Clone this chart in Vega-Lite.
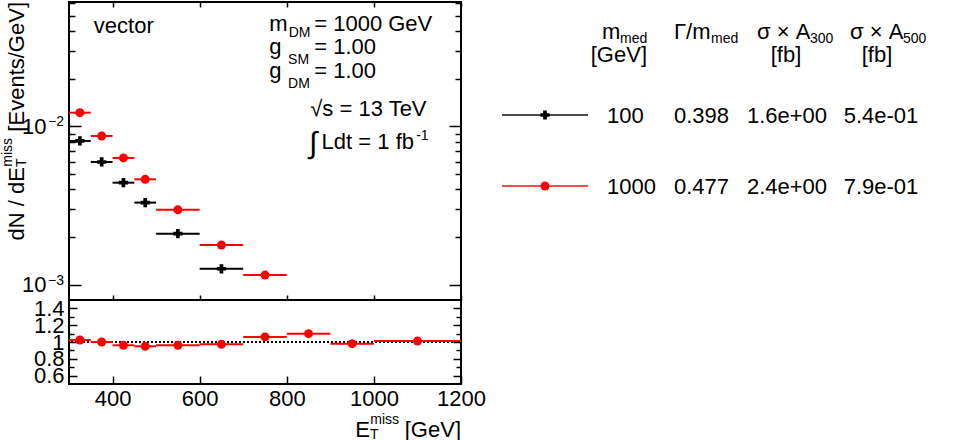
{
  "$schema": "https://vega.github.io/schema/vega-lite/v6.json",
  "padding": 0,
  "background": "white",
  "datasets": {
    "spectrum": [
      {"m_med": "100", "met_lo": 300, "met_hi": 350, "met": 325, "dNdMET": 0.00809},
      {"m_med": "100", "met_lo": 350, "met_hi": 400, "met": 375, "dNdMET": 0.00596},
      {"m_med": "100", "met_lo": 400, "met_hi": 450, "met": 425, "dNdMET": 0.00441},
      {"m_med": "100", "met_lo": 450, "met_hi": 500, "met": 475, "dNdMET": 0.00330},
      {"m_med": "100", "met_lo": 500, "met_hi": 600, "met": 550, "dNdMET": 0.00210},
      {"m_med": "100", "met_lo": 600, "met_hi": 700, "met": 650, "dNdMET": 0.00126},
      {"m_med": "1000", "met_lo": 300, "met_hi": 350, "met": 325, "dNdMET": 0.01221},
      {"m_med": "1000", "met_lo": 350, "met_hi": 400, "met": 375, "dNdMET": 0.00870},
      {"m_med": "1000", "met_lo": 400, "met_hi": 450, "met": 425, "dNdMET": 0.00632},
      {"m_med": "1000", "met_lo": 450, "met_hi": 500, "met": 475, "dNdMET": 0.00463},
      {"m_med": "1000", "met_lo": 500, "met_hi": 600, "met": 550, "dNdMET": 0.00297},
      {"m_med": "1000", "met_lo": 600, "met_hi": 700, "met": 650, "dNdMET": 0.00178},
      {"m_med": "1000", "met_lo": 700, "met_hi": 800, "met": 750, "dNdMET": 0.00115}
    ],
    "ratio": [
      {"met_lo": 300, "met_hi": 350, "met": 325, "ratio": 1.024},
      {"met_lo": 350, "met_hi": 400, "met": 375, "ratio": 1.000},
      {"met_lo": 400, "met_hi": 450, "met": 425, "ratio": 0.961},
      {"met_lo": 450, "met_hi": 500, "met": 475, "ratio": 0.949},
      {"met_lo": 500, "met_hi": 600, "met": 550, "ratio": 0.961},
      {"met_lo": 600, "met_hi": 700, "met": 650, "ratio": 0.973},
      {"met_lo": 700, "met_hi": 800, "met": 750, "ratio": 1.060},
      {"met_lo": 800, "met_hi": 900, "met": 850, "ratio": 1.099},
      {"met_lo": 900, "met_hi": 1000, "met": 950, "ratio": 0.980},
      {"met_lo": 1000, "met_hi": 1200, "met": 1100, "ratio": 1.012}
    ],
    "samples": [
      {"m_med": "100", "width": "0.398", "xsec300": "1.6e+00", "xsec500": "5.4e-01"},
      {"m_med": "1000", "width": "0.477", "xsec300": "2.4e+00", "xsec500": "7.9e-01"}
    ],
    "decades": [
      {"tick": 0.01, "exponent": "−2"},
      {"tick": 0.001, "exponent": "−3"}
    ]
  },
  "hconcat": [
    {
      "vconcat": [
        {
          "width": 392,
          "height": 298,
          "resolve": {"axis": {"x": "independent", "y": "independent"}},
          "layer": [
            {
              "data": {"name": "spectrum"},
              "mark": {"type": "rule", "strokeWidth": 2},
              "encoding": {
                "x": {"field": "met_lo", "type": "quantitative",
                  "scale": {"domain": [300, 1200], "nice": false, "zero": false},
                  "axis": {"orient": "bottom", "values": [400, 600, 800, 1000, 1200], "labels": false, "tickSize": -5, "title": null}},
                "x2": {"field": "met_hi"},
                "y": {"field": "dNdMET", "type": "quantitative",
                  "scale": {"type": "log", "domain": [0.0008, 0.0611], "nice": false},
                  "axis": {"orient": "left", "values": [0.01, 0.001], "labelExpr": "'10'", "tickSize": -12, "labelPadding": 35, "title": null}},
                "color": {"field": "m_med", "type": "nominal", "scale": {"domain": ["100", "1000"], "range": ["#000000", "#ff0000"]}, "legend": null}
              }
            },
            {
              "data": {"name": "spectrum"},
              "mark": {"type": "point", "filled": true, "opacity": 1},
              "encoding": {
                "x": {"field": "met", "type": "quantitative",
                  "axis": {"orient": "top", "values": [400, 600, 800, 1000, 1200], "labels": false, "tickSize": -5, "title": null}},
                "y": {"field": "dNdMET", "type": "quantitative",
                  "axis": {"orient": "left", "values": [0.002, 0.003, 0.004, 0.005, 0.006, 0.007, 0.008, 0.009, 0.02, 0.03, 0.04, 0.05, 0.06], "labels": false, "tickSize": -6, "title": null}},
                "color": {"field": "m_med", "type": "nominal", "scale": {"domain": ["100", "1000"], "range": ["#000000", "#ff0000"]}, "legend": null},
                "shape": {"field": "m_med", "type": "nominal", "scale": {"domain": ["100", "1000"], "range": ["cross", "circle"]}, "legend": null},
                "size": {"field": "m_med", "type": "ordinal", "scale": {"domain": ["100", "1000"], "range": [85, 80]}, "legend": null}
              }
            },
            {
              "data": {"name": "decades"},
              "mark": {"type": "text", "align": "left", "baseline": "alphabetic", "fontSize": 14, "dx": -21},
              "encoding": {
                "x": {"datum": 300, "type": "quantitative", "axis": null},
                "y": {"field": "tick", "type": "quantitative",
                  "axis": {"orient": "right", "values": [0.01, 0.001], "labels": false, "tickSize": -12, "title": null}},
                "text": {"field": "exponent"}
              }
            },
            {
              "data": {"values": [{}]},
              "mark": {"type": "text", "text": "vector", "align": "left", "baseline": "alphabetic", "fontSize": 22},
              "encoding": {
                "x": {"datum": 357, "type": "quantitative", "axis": null},
                "y": {"datum": 0.0388, "type": "quantitative",
                  "axis": {"orient": "right", "values": [0.002, 0.003, 0.004, 0.005, 0.006, 0.007, 0.008, 0.009, 0.02, 0.03, 0.04, 0.05, 0.06], "labels": false, "tickSize": -6, "title": null}}
              }
            },
            {
              "data": {"values": [{}]},
              "mark": {"type": "text", "text": "m", "align": "left", "baseline": "alphabetic", "fontSize": 22},
              "encoding": {"x": {"datum": 760, "type": "quantitative", "axis": null}, "y": {"datum": 0.04008, "type": "quantitative", "axis": null}}
            },
            {
              "data": {"values": [{}]},
              "mark": {"type": "text", "text": "DM", "align": "left", "baseline": "alphabetic", "fontSize": 14, "dy": 6},
              "encoding": {"x": {"datum": 804.5, "type": "quantitative", "axis": null}, "y": {"datum": 0.04008, "type": "quantitative", "axis": null}}
            },
            {
              "data": {"values": [{}]},
              "mark": {"type": "text", "text": "= 1000 GeV", "align": "left", "baseline": "alphabetic", "fontSize": 22},
              "encoding": {"x": {"datum": 863, "type": "quantitative", "axis": null}, "y": {"datum": 0.04008, "type": "quantitative", "axis": null}}
            },
            {
              "data": {"values": [{}]},
              "mark": {"type": "text", "text": "g", "align": "left", "baseline": "alphabetic", "fontSize": 22},
              "encoding": {"x": {"datum": 760, "type": "quantitative", "axis": null}, "y": {"datum": 0.02855, "type": "quantitative", "axis": null}}
            },
            {
              "data": {"values": [{}]},
              "mark": {"type": "text", "text": "SM", "align": "left", "baseline": "alphabetic", "fontSize": 14, "dy": 10},
              "encoding": {"x": {"datum": 803, "type": "quantitative", "axis": null}, "y": {"datum": 0.02855, "type": "quantitative", "axis": null}}
            },
            {
              "data": {"values": [{}]},
              "mark": {"type": "text", "text": "= 1.00", "align": "left", "baseline": "alphabetic", "fontSize": 22},
              "encoding": {"x": {"datum": 863, "type": "quantitative", "axis": null}, "y": {"datum": 0.02855, "type": "quantitative", "axis": null}}
            },
            {
              "data": {"values": [{}]},
              "mark": {"type": "text", "text": "g", "align": "left", "baseline": "alphabetic", "fontSize": 22},
              "encoding": {"x": {"datum": 760, "type": "quantitative", "axis": null}, "y": {"datum": 0.02014, "type": "quantitative", "axis": null}}
            },
            {
              "data": {"values": [{}]},
              "mark": {"type": "text", "text": "DM", "align": "left", "baseline": "alphabetic", "fontSize": 14, "dy": 10},
              "encoding": {"x": {"datum": 803, "type": "quantitative", "axis": null}, "y": {"datum": 0.02014, "type": "quantitative", "axis": null}}
            },
            {
              "data": {"values": [{}]},
              "mark": {"type": "text", "text": "= 1.00", "align": "left", "baseline": "alphabetic", "fontSize": 22},
              "encoding": {"x": {"datum": 863, "type": "quantitative", "axis": null}, "y": {"datum": 0.02014, "type": "quantitative", "axis": null}}
            },
            {
              "data": {"values": [{}]},
              "mark": {"type": "text", "text": "√s = 13 TeV", "align": "left", "baseline": "alphabetic", "fontSize": 22},
              "encoding": {"x": {"datum": 854, "type": "quantitative", "axis": null}, "y": {"datum": 0.01164, "type": "quantitative", "axis": null}}
            },
            {
              "data": {"values": [{}]},
              "mark": {"type": "text", "text": "∫", "align": "left", "baseline": "alphabetic", "fontSize": 30, "dy": 4},
              "encoding": {"x": {"datum": 851, "type": "quantitative", "axis": null}, "y": {"datum": 0.007171, "type": "quantitative", "axis": null}}
            },
            {
              "data": {"values": [{}]},
              "mark": {"type": "text", "text": "Ldt = 1 fb", "align": "left", "baseline": "alphabetic", "fontSize": 22},
              "encoding": {"x": {"datum": 880, "type": "quantitative", "axis": null}, "y": {"datum": 0.007171, "type": "quantitative", "axis": null}}
            },
            {
              "data": {"values": [{}]},
              "mark": {"type": "text", "text": "-1", "align": "left", "baseline": "alphabetic", "fontSize": 14, "dy": -9},
              "encoding": {"x": {"datum": 1097, "type": "quantitative", "axis": null}, "y": {"datum": 0.007171, "type": "quantitative", "axis": null}}
            },
            {
              "data": {"values": [{}]},
              "mark": {"type": "text", "text": "[Events/GeV]", "angle": 270, "align": "right", "baseline": "alphabetic", "fontSize": 22, "dy": -45},
              "encoding": {"x": {"datum": 300, "type": "quantitative", "axis": null}, "y": {"datum": 0.0611, "type": "quantitative", "axis": null}}
            },
            {
              "data": {"values": [{}]},
              "mark": {"type": "text", "text": "miss", "angle": 270, "align": "right", "baseline": "alphabetic", "fontSize": 14, "dx": -136, "dy": -57},
              "encoding": {"x": {"datum": 300, "type": "quantitative", "axis": null}, "y": {"datum": 0.0611, "type": "quantitative", "axis": null}}
            },
            {
              "data": {"values": [{}]},
              "mark": {"type": "text", "text": "T", "angle": 270, "align": "left", "baseline": "alphabetic", "fontSize": 14, "dx": -165, "dy": -43},
              "encoding": {"x": {"datum": 300, "type": "quantitative", "axis": null}, "y": {"datum": 0.0611, "type": "quantitative", "axis": null}}
            },
            {
              "data": {"values": [{}]},
              "mark": {"type": "text", "text": "dN / dE", "angle": 270, "align": "right", "baseline": "alphabetic", "fontSize": 22, "dx": -165, "dy": -45},
              "encoding": {"x": {"datum": 300, "type": "quantitative", "axis": null}, "y": {"datum": 0.0611, "type": "quantitative", "axis": null}}
            }
          ]
        },
        {
          "width": 392,
          "height": 84,
          "resolve": {"axis": {"x": "independent", "y": "independent"}},
          "layer": [
            {
              "data": {"values": [{}]},
              "mark": {"type": "rule", "color": "black", "strokeWidth": 2, "strokeDash": [2, 2]},
              "encoding": {
                "y": {"datum": 1, "type": "quantitative",
                  "scale": {"domain": [0.5, 1.5], "nice": false, "zero": false},
                  "axis": {"orient": "right", "values": [0.6, 0.8, 1, 1.2, 1.4], "labels": false, "tickSize": -8, "title": null}}
              }
            },
            {
              "data": {"name": "ratio"},
              "mark": {"type": "rule", "color": "#ff0000", "strokeWidth": 2},
              "encoding": {
                "x": {"field": "met_lo", "type": "quantitative",
                  "scale": {"domain": [300, 1200], "nice": false, "zero": false},
                  "axis": {"orient": "bottom", "values": [400, 600, 800, 1000, 1200], "format": "d", "tickSize": -8, "labelPadding": 12, "title": null}},
                "x2": {"field": "met_hi"},
                "y": {"field": "ratio", "type": "quantitative",
                  "axis": {"orient": "left", "values": [0.6, 0.8, 1, 1.2, 1.4], "format": "~g", "tickSize": -8, "labelPadding": 13, "title": null}}
              }
            },
            {
              "data": {"name": "ratio"},
              "mark": {"type": "point", "shape": "circle", "filled": true, "opacity": 1, "color": "#ff0000", "size": 80},
              "encoding": {
                "x": {"field": "met", "type": "quantitative", "axis": null},
                "y": {"field": "ratio", "type": "quantitative",
                  "axis": {"orient": "left", "values": [0.7, 0.9, 1.1, 1.3], "labels": false, "tickSize": -5, "title": null}}
              }
            },
            {
              "data": {"values": [{}]},
              "mark": {"type": "text", "text": "[GeV]", "align": "right", "baseline": "alphabetic", "fontSize": 22, "dy": 53},
              "encoding": {
                "x": {"datum": 1200, "type": "quantitative", "axis": null},
                "y": {"datum": 0.5, "type": "quantitative",
                  "axis": {"orient": "right", "values": [0.7, 0.9, 1.1, 1.3], "labels": false, "tickSize": -5, "title": null}}
              }
            },
            {
              "data": {"values": [{}]},
              "mark": {"type": "text", "text": "miss", "align": "right", "baseline": "alphabetic", "fontSize": 14, "dx": -62, "dy": 40},
              "encoding": {"x": {"datum": 1200, "type": "quantitative", "axis": null}, "y": {"datum": 0.5, "type": "quantitative", "axis": null}}
            },
            {
              "data": {"values": [{}]},
              "mark": {"type": "text", "text": "T", "align": "left", "baseline": "alphabetic", "fontSize": 14, "dx": -91, "dy": 55},
              "encoding": {"x": {"datum": 1200, "type": "quantitative", "axis": null}, "y": {"datum": 0.5, "type": "quantitative", "axis": null}}
            },
            {
              "data": {"values": [{}]},
              "mark": {"type": "text", "text": "E", "align": "right", "baseline": "alphabetic", "fontSize": 22, "dx": -91, "dy": 53},
              "encoding": {"x": {"datum": 1200, "type": "quantitative", "axis": null}, "y": {"datum": 0.5, "type": "quantitative", "axis": null}}
            }
          ]
        }
      ],
      "spacing": 0,
      "bounds": "flush"
    },
    {
      "width": 440,
      "height": 220,
      "view": {"stroke": null},
      "data": {"name": "samples"},
      "encoding": {
        "y": {"field": "m_med", "type": "nominal",
          "scale": {"type": "point", "domain": ["header", "100", "1000"], "range": [42, 184], "padding": 0},
          "axis": null}
      },
      "layer": [
        {
          "mark": {"type": "tick", "orient": "horizontal", "size": 86, "thickness": 2},
          "encoding": {
            "x": {"datum": "marker", "type": "nominal",
              "scale": {"type": "point", "domain": ["marker", "m_med", "width", "xsec300", "xsec500"], "range": [58, 394], "padding": 0},
              "axis": null},
            "color": {"field": "m_med", "type": "nominal", "scale": {"domain": ["100", "1000"], "range": ["#000000", "#ff0000"]}, "legend": null}
          }
        },
        {
          "mark": {"type": "point", "filled": true, "opacity": 1},
          "encoding": {
            "x": {"datum": "marker", "type": "nominal"},
            "color": {"field": "m_med", "type": "nominal", "scale": {"domain": ["100", "1000"], "range": ["#000000", "#ff0000"]}, "legend": null},
            "shape": {"field": "m_med", "type": "nominal", "scale": {"domain": ["100", "1000"], "range": ["cross", "circle"]}, "legend": null},
            "size": {"field": "m_med", "type": "ordinal", "scale": {"domain": ["100", "1000"], "range": [85, 80]}, "legend": null}
          }
        },
        {
          "mark": {"type": "text", "align": "left", "baseline": "alphabetic", "fontSize": 22, "dx": -22, "dy": 8},
          "encoding": {"x": {"datum": "m_med", "type": "nominal"}, "text": {"field": "m_med"}}
        },
        {
          "mark": {"type": "text", "align": "left", "baseline": "alphabetic", "fontSize": 22, "dx": -39, "dy": 8},
          "encoding": {"x": {"datum": "width", "type": "nominal"}, "text": {"field": "width"}}
        },
        {
          "mark": {"type": "text", "align": "center", "baseline": "alphabetic", "fontSize": 22, "dx": -10, "dy": 8},
          "encoding": {"x": {"datum": "xsec300", "type": "nominal"}, "text": {"field": "xsec300"}}
        },
        {
          "mark": {"type": "text", "align": "center", "baseline": "alphabetic", "fontSize": 22, "dx": 0, "dy": 8},
          "encoding": {"x": {"datum": "xsec500", "type": "nominal"}, "text": {"field": "xsec500"}}
        },
        {
          "data": {"values": [{}]},
          "mark": {"type": "text", "text": "m", "align": "left", "baseline": "alphabetic", "fontSize": 22, "dx": -27, "dy": -5},
          "encoding": {"x": {"datum": "m_med", "type": "nominal"}, "y": {"datum": "header", "type": "nominal"}}
        },
        {
          "data": {"values": [{}]},
          "mark": {"type": "text", "text": "med", "align": "left", "baseline": "alphabetic", "fontSize": 14, "dx": -9, "dy": -1},
          "encoding": {"x": {"datum": "m_med", "type": "nominal"}, "y": {"datum": "header", "type": "nominal"}}
        },
        {
          "data": {"values": [{}]},
          "mark": {"type": "text", "text": "[GeV]", "align": "right", "baseline": "alphabetic", "fontSize": 22, "dx": 18, "dy": 18},
          "encoding": {"x": {"datum": "m_med", "type": "nominal"}, "y": {"datum": "header", "type": "nominal"}}
        },
        {
          "data": {"values": [{}]},
          "mark": {"type": "text", "text": "Γ/m", "align": "left", "baseline": "alphabetic", "fontSize": 22, "dx": -39, "dy": -5},
          "encoding": {"x": {"datum": "width", "type": "nominal"}, "y": {"datum": "header", "type": "nominal"}}
        },
        {
          "data": {"values": [{}]},
          "mark": {"type": "text", "text": "med", "align": "left", "baseline": "alphabetic", "fontSize": 14, "dx": -2, "dy": -1},
          "encoding": {"x": {"datum": "width", "type": "nominal"}, "y": {"datum": "header", "type": "nominal"}}
        },
        {
          "data": {"values": [{}]},
          "mark": {"type": "text", "text": "σ × A", "align": "left", "baseline": "alphabetic", "fontSize": 22, "dx": -40, "dy": -5},
          "encoding": {"x": {"datum": "xsec300", "type": "nominal"}, "y": {"datum": "header", "type": "nominal"}}
        },
        {
          "data": {"values": [{}]},
          "mark": {"type": "text", "text": "300", "align": "left", "baseline": "alphabetic", "fontSize": 14, "dx": 13, "dy": -1},
          "encoding": {"x": {"datum": "xsec300", "type": "nominal"}, "y": {"datum": "header", "type": "nominal"}}
        },
        {
          "data": {"values": [{}]},
          "mark": {"type": "text", "text": "[fb]", "align": "center", "baseline": "alphabetic", "fontSize": 22, "dx": -11, "dy": 18},
          "encoding": {"x": {"datum": "xsec300", "type": "nominal"}, "y": {"datum": "header", "type": "nominal"}}
        },
        {
          "data": {"values": [{}]},
          "mark": {"type": "text", "text": "σ × A", "align": "left", "baseline": "alphabetic", "fontSize": 22, "dx": -31, "dy": -5},
          "encoding": {"x": {"datum": "xsec500", "type": "nominal"}, "y": {"datum": "header", "type": "nominal"}}
        },
        {
          "data": {"values": [{}]},
          "mark": {"type": "text", "text": "500", "align": "left", "baseline": "alphabetic", "fontSize": 14, "dx": 22, "dy": -1},
          "encoding": {"x": {"datum": "xsec500", "type": "nominal"}, "y": {"datum": "header", "type": "nominal"}}
        },
        {
          "data": {"values": [{}]},
          "mark": {"type": "text", "text": "[fb]", "align": "center", "baseline": "alphabetic", "fontSize": 22, "dx": -4, "dy": 18},
          "encoding": {"x": {"datum": "xsec500", "type": "nominal"}, "y": {"datum": "header", "type": "nominal"}}
        }
      ]
    }
  ],
  "spacing": 0,
  "bounds": "full",
  "config": {
    "font": "Liberation Sans",
    "view": {"stroke": "black", "strokeWidth": 2},
    "axis": {
      "domain": false,
      "grid": false,
      "ticks": true,
      "tickColor": "black",
      "tickWidth": 1.5,
      "labelColor": "black",
      "labelFont": "Liberation Sans",
      "labelFontSize": 22,
      "labelFlush": false,
      "labelOverlap": false,
      "labelBound": false
    },
    "text": {"font": "Liberation Sans", "color": "black", "fontSize": 22}
  }
}
